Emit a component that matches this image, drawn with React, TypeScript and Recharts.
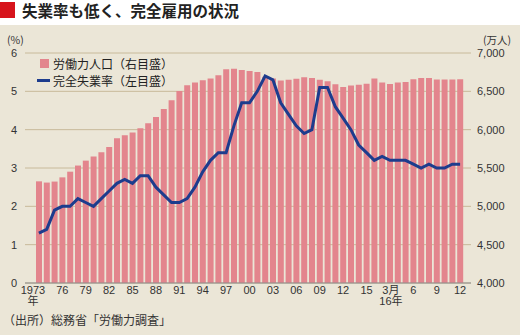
import { ComposedChart, Bar, Line, XAxis, YAxis, CartesianGrid } from 'recharts';

const FONT = "'Liberation Sans', 'Noto Sans CJK JP', sans-serif";
const JP_FONT = "'Noto Sans CJK JP', sans-serif";

// 1973-2015 annual, then 2016 monthly
const categories = [
  '1973', '1974', '1975', '1976', '1977', '1978', '1979', '1980', '1981', '1982',
  '1983', '1984', '1985', '1986', '1987', '1988', '1989', '1990', '1991', '1992',
  '1993', '1994', '1995', '1996', '1997', '1998', '1999', '2000', '2001', '2002',
  '2003', '2004', '2005', '2006', '2007', '2008', '2009', '2010', '2011', '2012',
  '2013', '2014', '2015',
  '2016-01', '2016-02', '2016-03', '2016-04', '2016-05', '2016-06',
  '2016-07', '2016-08', '2016-09', '2016-10', '2016-11', '2016-12',
];

// 労働力人口 (万人)
const laborForce = [
  5326, 5310, 5323, 5378, 5452, 5532, 5596, 5650, 5707, 5774,
  5889, 5927, 5963, 6020, 6084, 6166, 6270, 6384, 6505, 6578,
  6615, 6645, 6666, 6711, 6787, 6793, 6779, 6766, 6752, 6689,
  6666, 6642, 6651, 6664, 6684, 6674, 6650, 6632, 6591, 6555,
  6577, 6587, 6598,
  6666, 6614, 6595, 6614, 6622, 6657, 6674, 6674, 6653, 6653, 6653, 6657,
];

// 完全失業率 (%)
const unemploymentRate = [
  1.3, 1.4, 1.9, 2.0, 2.0, 2.2, 2.1, 2.0, 2.2, 2.4,
  2.6, 2.7, 2.6, 2.8, 2.8, 2.5, 2.3, 2.1, 2.1, 2.2,
  2.5, 2.9, 3.2, 3.4, 3.4, 4.1, 4.7, 4.7, 5.0, 5.4,
  5.3, 4.7, 4.4, 4.1, 3.9, 4.0, 5.1, 5.1, 4.6, 4.3,
  4.0, 3.6, 3.4,
  3.2, 3.3, 3.2, 3.2, 3.2, 3.1, 3.0, 3.1, 3.0, 3.0, 3.1, 3.1,
];

const tickLabels: Record<string, string[]> = {
  '1973': ['1973', '年'],
  '1976': ['76'],
  '1979': ['79'],
  '1982': ['82'],
  '1985': ['85'],
  '1988': ['88'],
  '1991': ['91'],
  '1994': ['94'],
  '1997': ['97'],
  '2000': ['00'],
  '2003': ['03'],
  '2006': ['06'],
  '2009': ['09'],
  '2012': ['12'],
  '2015': ['15'],
  '2016-03': ['3月', '16年'],
  '2016-06': ['6'],
  '2016-09': ['9'],
  '2016-12': ['12'],
};

const rateTicks = [0, 1, 2, 3, 4, 5, 6];
const laborTicks = [4000, 4500, 5000, 5500, 6000, 6500, 7000];

const data = categories.map((c, i) => ({
  period: c,
  labor: laborForce[i],
  rate: unemploymentRate[i],
}));

function XTick({ x, y, payload }: any) {
  const lines = tickLabels[payload.value];
  if (!lines) return <g />;
  const shift = payload.value === '1973' ? -6 : payload.value === '2016-03' ? 1 : 0;
  return (
    <g>
      {lines.map((t, i) => (
        <text
          key={i}
          x={x + shift}
          y={y + i * 11}
          dy="0.75em"
          textAnchor="middle"
          fontSize={11}
          fill="#333"
          fontFamily={FONT}
        >
          {t}
        </text>
      ))}
    </g>
  );
}

function LegendBox() {
  const row = { display: 'flex', alignItems: 'center', height: 17, fontSize: 12, color: '#222', fontFamily: JP_FONT };
  return (
    <div style={{ position: 'absolute', left: 37, top: 30 }}>
      <div style={row}>
        <span style={{ width: 9, height: 9, background: '#e3858d', marginLeft: 3, marginRight: 4 }} />
        労働力人口（右目盛）
      </div>
      <div style={row}>
        <span style={{ width: 13, height: 3, background: '#1d3c8d', marginRight: 3 }} />
        完全失業率（左目盛）
      </div>
    </div>
  );
}

export default function App() {
  return (
    <div style={{ position: 'absolute', left: 0, top: 0, width: 520, height: 335, background: '#fff', fontFamily: FONT }}>
      <div style={{ position: 'absolute', left: 0, top: 2, width: 15, height: 16, background: '#d7141c' }} />
      <div style={{ position: 'absolute', left: 22, top: 0, fontSize: 15.5, fontWeight: 700, color: '#222', lineHeight: '20px', fontFamily: JP_FONT }}>
        失業率も低く、完全雇用の状況
      </div>
      <div style={{ position: 'absolute', left: 0, top: 25, width: 520, height: 310, background: '#ebe6d7' }}>
        <div style={{ position: 'absolute', left: 7, top: 9, fontSize: 10.5, lineHeight: '11px', color: '#333', fontFamily: JP_FONT }}>(%)</div>
        <div style={{ position: 'absolute', left: 483, top: 9, fontSize: 10.5, lineHeight: '11px', color: '#333', fontFamily: JP_FONT }}>(万人)</div>
        <ComposedChart
          width={520}
          height={310}
          data={data}
          margin={{ top: 28, right: 0, left: 0, bottom: 22 }}
          barCategoryGap={0}
        >
          <CartesianGrid vertical={false} stroke="#c8ba9a" strokeWidth={1} />
          <XAxis
            dataKey="period"
            interval={0}
            tick={<XTick />}
            tickLine={false}
            tickSize={0}
            tickMargin={3}
            height={30}
            axisLine={{ stroke: '#8c8c8c' }}
            padding={{ left: 10, right: 7 }}
          />
          <YAxis
            domain={[0, 6]}
            ticks={rateTicks}
            width={25}
            axisLine={false}
            tickLine={false}
            tickSize={6}
            tickMargin={2}
            tick={{ fontSize: 11, fill: '#333', fontFamily: FONT }}
          />
          <YAxis
            yAxisId="right"
            orientation="right"
            domain={[4000, 7000]}
            ticks={laborTicks}
            width={49}
            axisLine={false}
            tickLine={false}
            tickSize={3}
            tickMargin={3}
            tickFormatter={(v: number) => v.toLocaleString('en-US')}
            tick={{ fontSize: 11, fill: '#333', fontFamily: FONT, textAnchor: 'start' }}
          />
          <Bar yAxisId="right" dataKey="labor" fill="#e3858d" barSize={6} isAnimationActive={false} />
          <Line
            dataKey="rate"
            type="linear"
            stroke="#1d3c8d"
            strokeWidth={3}
            dot={false}
            isAnimationActive={false}
          />
        </ComposedChart>
        <LegendBox />
        <div style={{ position: 'absolute', left: 3, top: 286, fontSize: 12, color: '#333', fontFamily: JP_FONT }}>
          （出所）総務省「労働力調査」
        </div>
      </div>
    </div>
  );
}
